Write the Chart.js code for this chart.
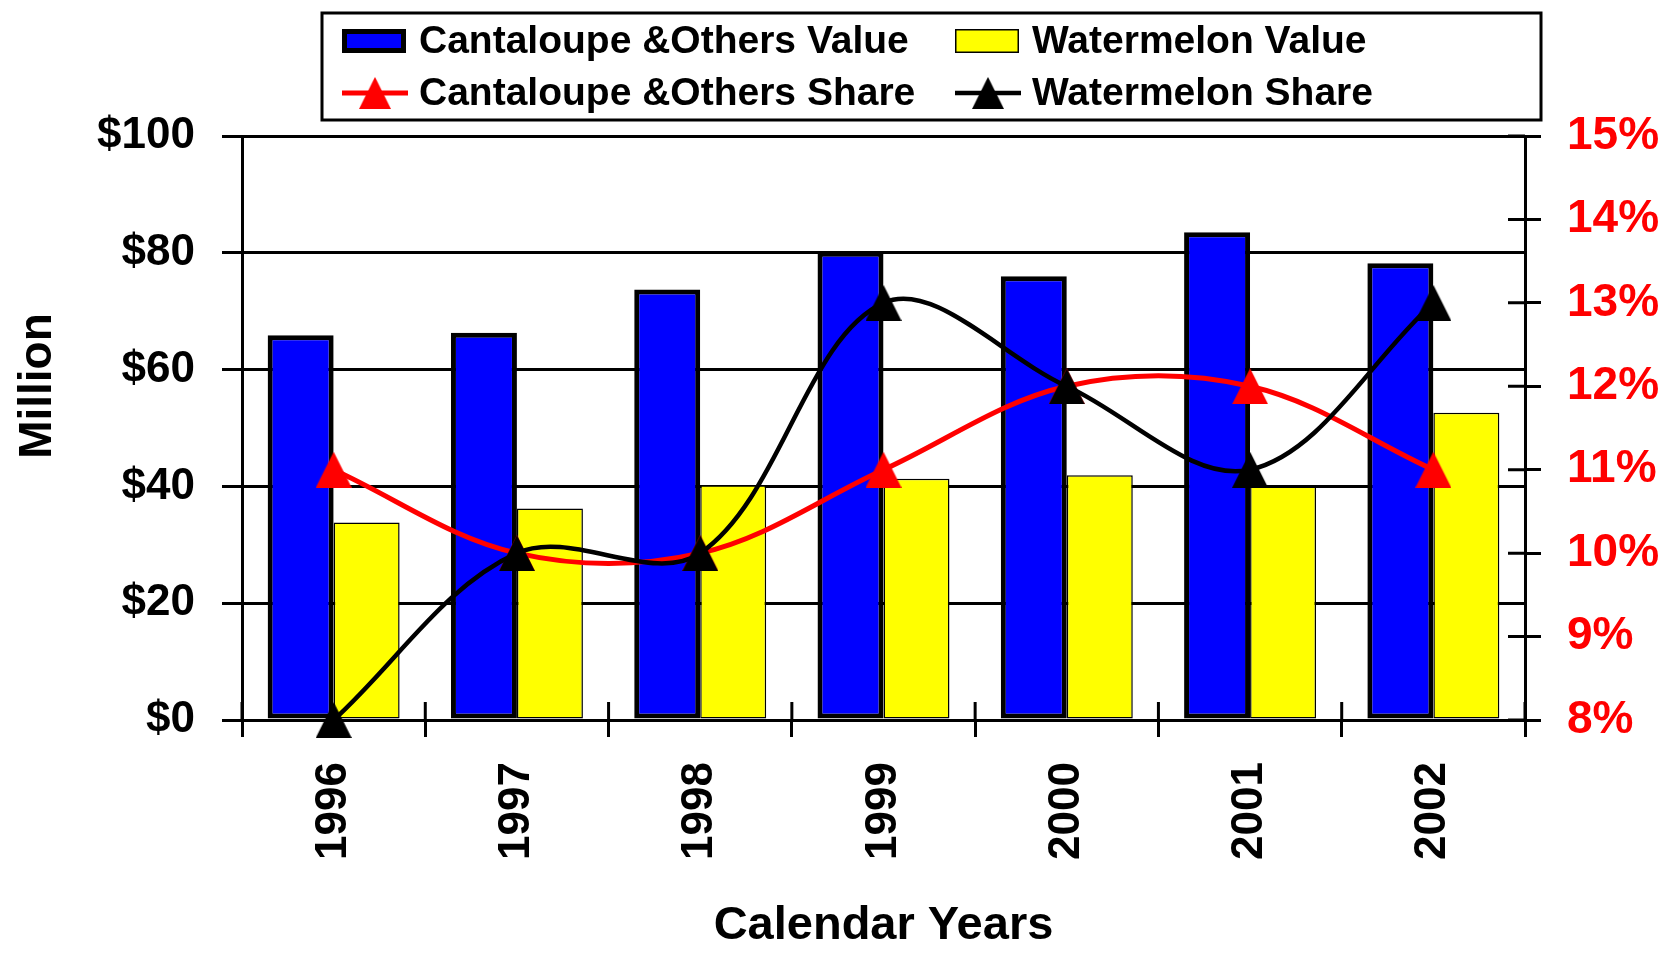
<!DOCTYPE html>
<html>
<head>
<meta charset="utf-8">
<script src="https://cdn.jsdelivr.net/npm/chart.js@4.4.1/dist/chart.umd.min.js"></script>
<style>
html, body { margin: 0; padding: 0; background: #ffffff; }
canvas { display: block; }
</style>
</head>
<body>
<canvas id="chart" width="1677" height="955"></canvas>
<script>
// values ($ million, share in %)
const years = ['1996', '1997', '1998', '1999', '2000', '2001', '2002'];
const cantaloupeValue = [65.9, 66.3, 73.7, 80.2, 76.0, 83.5, 78.2];
const watermelonValue = [33.8, 36.2, 40.2, 41.3, 41.9, 40.0, 52.6];
const cantaloupeShare = [11, 10, 10, 11, 12, 12, 11];
const watermelonShare = [8, 10, 10, 13, 12, 11, 13];
const valueTicks = ['$0', '$20', '$40', '$60', '$80', '$100'];
const shareTicks = ['8%', '9%', '10%', '11%', '12%', '13%', '14%', '15%'];

const FONT = "'Liberation Sans', Arial, sans-serif";

// filled triangle marker as a small canvas, used as pointStyle
function triangle(color, w, h) {
    const c = document.createElement('canvas');
    c.width = w;
    c.height = h;
    const g = c.getContext('2d');
    g.fillStyle = color;
    g.beginPath();
    g.moveTo(w / 2, 0);
    g.lineTo(w, h);
    g.lineTo(0, h);
    g.closePath();
    g.fill();
    return c;
}
const redTri = triangle('#ff0000', 36, 36);
const blackTri = triangle('#000000', 36, 36);

// tick stubs on the inner side of the x axis and right axis
const innerTicks = {
    id: 'innerTicks',
    beforeDatasetsDraw(chart) {
        const { ctx, chartArea: a } = chart;
        const x = chart.scales.x;
        const yR = chart.scales.yShare;
        ctx.save();
        ctx.strokeStyle = '#000';
        ctx.lineWidth = 3;
        ctx.beginPath();
        for (let i = 0; i <= years.length; i++) {
            let px;
            if (i === 0) px = a.left;
            else if (i === years.length) px = a.right;
            else px = (x.getPixelForValue(i - 1) + x.getPixelForValue(i)) / 2;
            ctx.moveTo(px, a.bottom);
            ctx.lineTo(px, a.bottom - 18);
        }
        yR.ticks.forEach(t => {
            const py = yR.getPixelForValue(t.value);
            ctx.moveTo(a.right - 17, py);
            ctx.lineTo(a.right, py);
        });
        ctx.stroke();
        ctx.restore();
    }
};

// boxed two-column legend and the rotated "Million" title
const decorations = {
    id: 'decorations',
    afterDraw(chart) {
        const ctx = chart.ctx;
        const ds = chart.data.datasets;
        ctx.save();

        ctx.strokeStyle = '#000';
        ctx.lineWidth = 3;
        ctx.strokeRect(322, 13, 1219, 107);

        const slots = [
            { d: 0, x: 342, y: 41 }, { d: 1, x: 955, y: 41 },
            { d: 2, x: 342, y: 93 }, { d: 3, x: 955, y: 93 }
        ];
        ctx.font = 'bold 39px ' + FONT;
        ctx.textBaseline = 'middle';
        ctx.textAlign = 'left';
        slots.forEach(s => {
            const d = ds[s.d];
            if (d.type === 'bar') {
                const bw = d.borderWidth;
                ctx.fillStyle = d.borderColor;
                ctx.fillRect(s.x, s.y - 12, 64, 24);
                ctx.fillStyle = d.backgroundColor;
                ctx.fillRect(s.x + bw, s.y - 12 + bw, 64 - 2 * bw, 24 - 2 * bw);
            } else {
                ctx.strokeStyle = d.borderColor;
                ctx.lineWidth = d.borderWidth;
                ctx.beginPath();
                ctx.moveTo(s.x, s.y);
                ctx.lineTo(s.x + 66, s.y);
                ctx.stroke();
                ctx.drawImage(d.pointStyle, s.x + 33 - 16, s.y - 16, 32, 32);
            }
            ctx.fillStyle = '#000';
            ctx.fillText(d.label, s.x + 77, s.y + 1);
        });

        ctx.translate(38, 386);
        ctx.rotate(-Math.PI / 2);
        ctx.font = 'bold 46px ' + FONT;
        ctx.textAlign = 'center';
        ctx.fillStyle = '#000';
        ctx.fillText('Million', 0, 0);
        ctx.restore();
    }
};

new Chart(document.getElementById('chart'), {
    data: {
        labels: years,
        datasets: [
            {
                type: 'bar',
                label: 'Cantaloupe &Others Value',
                data: cantaloupeValue,
                backgroundColor: '#0000ff',
                borderColor: '#000000',
                borderWidth: 5,
                borderSkipped: false,
                yAxisID: 'y',
                order: 2
            },
            {
                type: 'bar',
                label: 'Watermelon Value',
                data: watermelonValue,
                backgroundColor: '#ffff00',
                borderColor: '#000000',
                borderWidth: 1.5,
                borderSkipped: false,
                yAxisID: 'y',
                order: 3
            },
            {
                type: 'line',
                label: 'Cantaloupe &Others Share',
                data: cantaloupeShare,
                borderColor: '#ff0000',
                borderWidth: 5,
                tension: 0.35,
                pointStyle: redTri,
                pointRadius: 18,
                yAxisID: 'yShare',
                clip: false,
                order: 1
            },
            {
                type: 'line',
                label: 'Watermelon Share',
                data: watermelonShare,
                borderColor: '#000000',
                borderWidth: 4.5,
                tension: 0.35,
                pointStyle: blackTri,
                pointRadius: 18,
                yAxisID: 'yShare',
                clip: false,
                order: 0
            }
        ]
    },
    options: {
        responsive: false,
        animation: false,
        layout: { padding: { top: 136, left: 0, right: 0, bottom: 0 } },
        datasets: {
            bar: { barPercentage: 1, categoryPercentage: 0.72 }
        },
        plugins: {
            legend: { display: false },
            tooltip: { enabled: false }
        },
        scales: {
            x: {
                afterFit(s) { s.height = 235; },
                grid: { offset: true, drawOnChartArea: false, color: '#000', lineWidth: 3, tickLength: 17 },
                border: { color: '#000', width: 3 },
                ticks: {
                    color: '#000',
                    font: { family: FONT, size: 44, weight: 'bold' },
                    minRotation: 90,
                    maxRotation: 90,
                    autoSkip: false,
                    padding: 25
                },
                title: {
                    display: true,
                    text: 'Calendar Years',
                    color: '#000',
                    font: { family: FONT, size: 47, weight: 'bold' },
                    padding: { top: 0, bottom: 1 }
                }
            },
            y: {
                position: 'left',
                min: 0,
                max: 100,
                afterFit(s) { s.width = 242; },
                grid: { color: '#000', lineWidth: 3, tickLength: 20 },
                border: { color: '#000', width: 3 },
                ticks: {
                    stepSize: 20,
                    color: '#000',
                    font: { family: FONT, size: 44, weight: 'bold' },
                    padding: 27,
                    callback: (v) => valueTicks[v / 20]
                }
            },
            yShare: {
                position: 'right',
                min: 8,
                max: 15,
                afterFit(s) { s.width = 152; },
                grid: { drawOnChartArea: false, color: '#000', lineWidth: 3, tickLength: 16 },
                border: { color: '#000', width: 3 },
                ticks: {
                    stepSize: 1,
                    color: '#ff0000',
                    font: { family: FONT, size: 46, weight: 'bold' },
                    padding: 26,
                    callback: (v) => shareTicks[v - 8]
                }
            }
        }
    },
    plugins: [innerTicks, decorations]
});
</script>
</body>
</html>
